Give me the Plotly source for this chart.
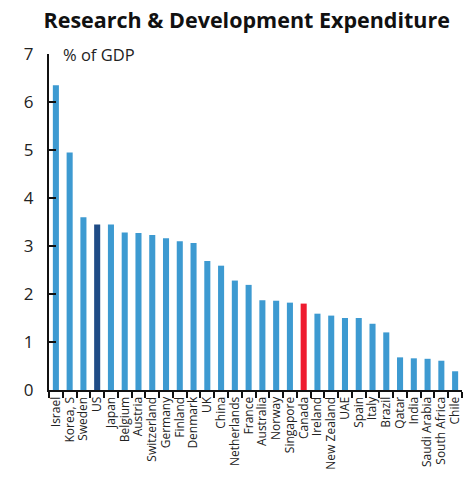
import plotly.graph_objects as go

countries = ["Israel", "Korea, S", "Sweden", "US", "Japan", "Belgium", "Austria",
             "Switzerland", "Germany", "Finland", "Denmark", "UK", "China",
             "Netherlands", "France", "Australia", "Norway", "Singapore", "Canada",
             "Ireland", "New Zealand", "UAE", "Spain", "Italy", "Brazil", "Qatar",
             "India", "Saudi Arabia", "South Africa", "Chile"]
rd_pct_gdp = [6.35, 4.95, 3.60, 3.45, 3.45, 3.28, 3.27, 3.23, 3.16, 3.10, 3.06,
              2.69, 2.59, 2.28, 2.19, 1.87, 1.86, 1.82, 1.80, 1.59, 1.55, 1.50,
              1.50, 1.38, 1.20, 0.68, 0.66, 0.65, 0.61, 0.39]

base_color = "#3d9ad1"
highlight = {"US": "#1f4c86", "Canada": "#ee1b2f"}
colors = [highlight.get(c, base_color) for c in countries]

fig = go.Figure(go.Bar(
    x=countries, y=rd_pct_gdp, marker_color=colors, marker_line_width=0,
))

fig.update_layout(
    width=470, height=477,
    margin=dict(l=49, r=7, t=54, b=84),
    paper_bgcolor="white", plot_bgcolor="white",
    bargap=0.56,
    showlegend=False,
    font=dict(family="Open Sans, sans-serif", color="#222"),
    title=dict(text="<b>Research & Development Expenditure</b>",
               x=0.525, xanchor="center", y=0.957, yanchor="middle",
               font=dict(size=21.5, color="#111", family="Open Sans, sans-serif")),
    annotations=[dict(text="% of GDP", xref="paper", yref="paper", x=0.03, y=1.0,
                      xanchor="left", yanchor="middle", showarrow=False,
                      font=dict(size=16.5, color="#222"))],
)
fig.update_yaxes(range=[0, 7], dtick=1, showline=True, linecolor="#111",
                 linewidth=2, ticks="inside", ticklen=7, tickwidth=2,
                 tickcolor="#111", showgrid=False, zeroline=False,
                 tickfont=dict(size=17, color="#222"), ticklabelstandoff=10)
fig.update_xaxes(showline=True, linecolor="#111", linewidth=2,
                 tickmode="array", tickvals=countries, ticktext=countries,
                 ticks="outside", tickson="boundaries", ticklen=6, tickwidth=2,
                 tickcolor="#111", tickangle=-90, showgrid=False,
                 tickfont=dict(size=12, color="#222"))

fig.write_html("out.html")
